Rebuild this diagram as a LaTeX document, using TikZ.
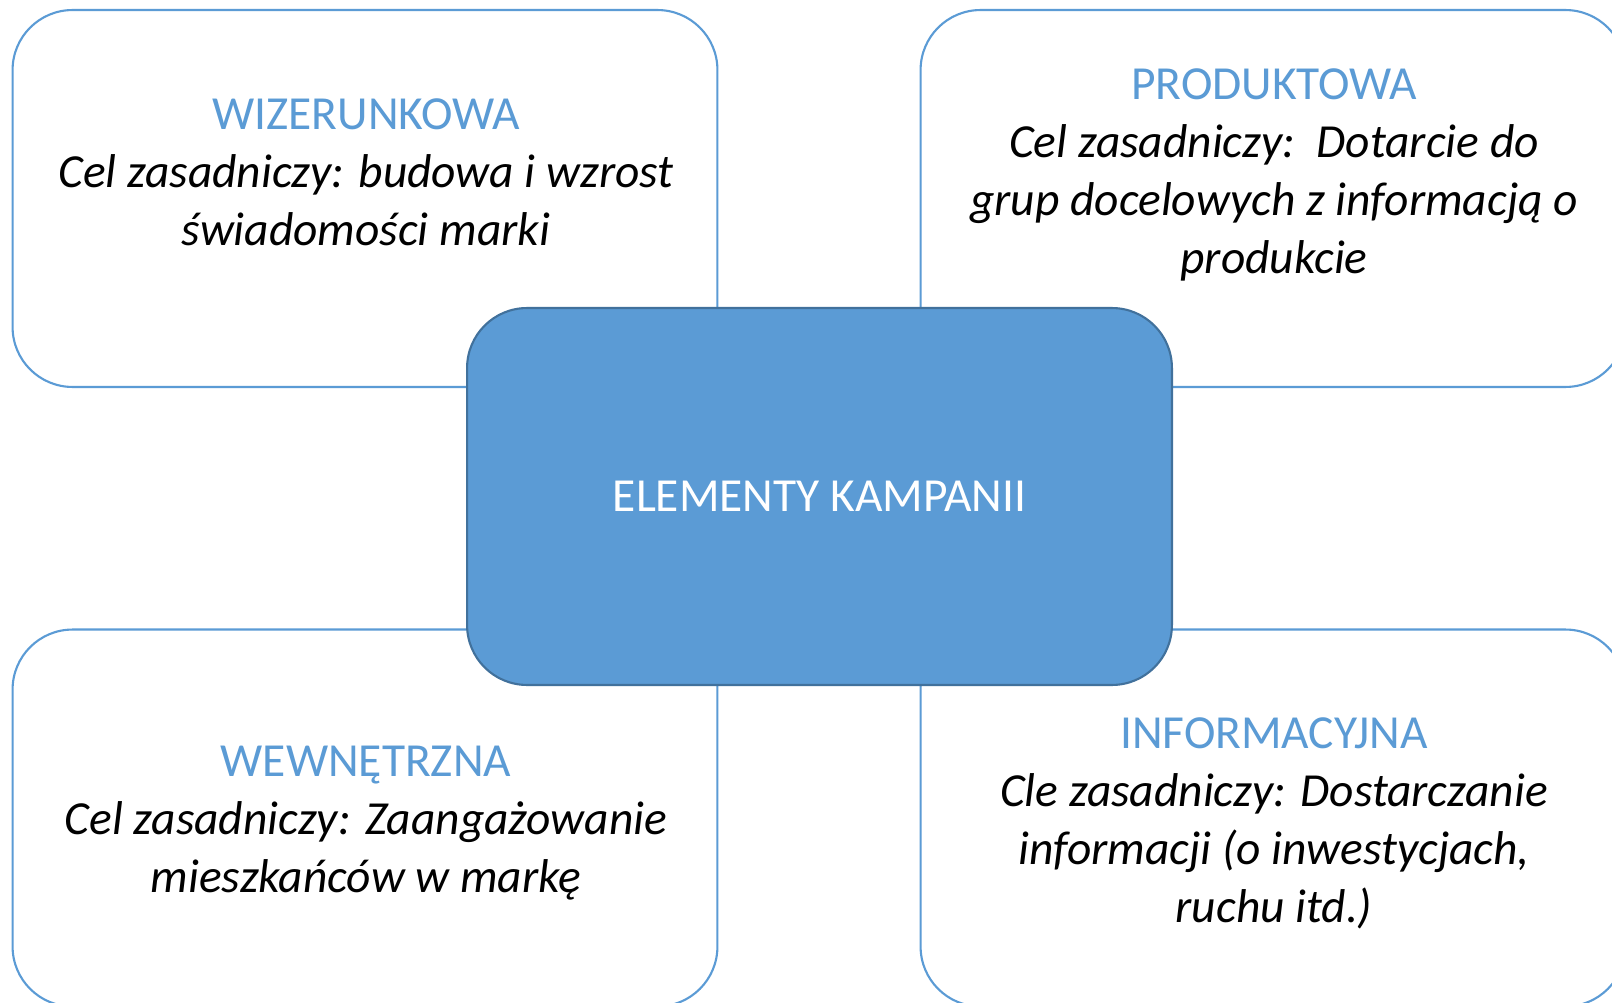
\documentclass[tikz,border=0pt]{standalone}
\usepackage{fontspec}
\setmainfont{Carlito}
\usepackage{tikz}
\usetikzlibrary{positioning}
\definecolor{accent}{HTML}{5B9BD5}
\definecolor{accentdk}{HTML}{41719C}
\tikzset{
  base/.style={rounded corners=1.2cm, minimum width=14.1cm, minimum height=7.54cm, inner sep=0pt},
  frame/.style={base, fill=white, draw=accent, line width=1.2pt},
  core/.style={base, fill=accent, draw=accentdk, line width=1.2pt},
  txt/.style={align=center, inner sep=0pt, font=\fontsize{27pt}{33pt}\selectfont\itshape, text=black},
}

\begin{document}
\begin{tikzpicture}[x=0.02cm, y=-0.02cm]
    \useasboundingbox (0,0) rectangle (1612,1003);
    \clip (0,0) rectangle (1612,1003);
    \node[frame] (wizbox) at (365,198.5) {};
    \node[frame] (prodbox) at (1273,198.5) {};
    \node[frame] (wewbox) at (365,818) {};
    \node[frame] (infobox) at (1273,818) {};
    \node[core] (elem) at (819.5,496.5) {};
    \node[font=\fontsize{27pt}{33pt}\selectfont, text=white] (elemtxt) at (elem.center) {ELEMENTY KAMPANII};
    \node[txt] (wiz) at (366,172) {{\color{accent}\upshape WIZERUNKOWA}\\Cel zasadniczy: budowa i wzrost\\świadomości marki};
    \node[txt] (prod) at (1274,175) {{\color{accent}\upshape PRODUKTOWA}\\Cel zasadniczy:\ \ Dotarcie do\\grup docelowych z informacją o\\produkcie};
    \node[txt] (wew) at (366,823) {{\color{accent}\upshape WEWNĘTRZNA}\\Cel zasadniczy: Zaangażowanie\\mieszkańców w markę};
    \node[txt] (info) at (1274,823) {{\color{accent}\upshape INFORMACYJNA}\\Cle zasadniczy: Dostarczanie\\informacji (o inwestycjach,\\ruchu itd.)};
  \end{tikzpicture}
\end{document}
